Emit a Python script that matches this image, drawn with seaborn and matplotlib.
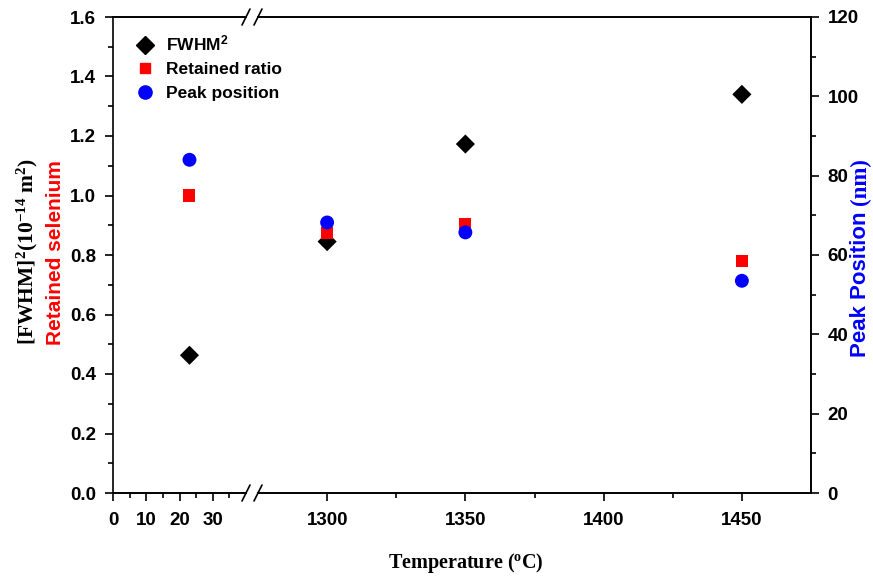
import numpy as np
import matplotlib
matplotlib.use('Agg')
import matplotlib.pyplot as plt
import seaborn as sns

sns.set_style('ticks')
plt.rcParams['font.family'] = ['Liberation Sans', 'DejaVu Sans']
plt.rcParams['font.weight'] = 'bold'
plt.rcParams['mathtext.default'] = 'regular'
plt.rcParams['axes.linewidth'] = 1.2
for k in ['text.color', 'axes.labelcolor', 'xtick.color', 'ytick.color', 'axes.edgecolor']:
    plt.rcParams[k] = 'black'

# data
temps = [23, 1300, 1350, 1450]
fwhm2 = [0.463, 0.845, 1.173, 1.340]
retained = [1.000, 0.875, 0.905, 0.780]
peak_pos = [84.0, 68.2, 65.7, 53.5]

left_ticks = [0, 10, 20, 30]
left_minor = [5, 15, 25, 35]
right_ticks = [1300, 1350, 1400, 1450]
right_minor = [1325, 1375, 1425]

W, H = 873, 578
fig = plt.figure(figsize=(W / 100, H / 100), dpi=100)


def rect(x0, x1, y0=17, y1=493):
    return [x0 / W, 1 - y1 / H, (x1 - x0) / W, (y1 - y0) / H]


ax1 = fig.add_axes(rect(113, 246))
ax2 = fig.add_axes(rect(258, 811))
ax1t = ax1.twinx()
ax2t = ax2.twinx()

for ax, axt in [(ax1, ax1t), (ax2, ax2t)]:
    sns.scatterplot(x=temps, y=fwhm2, ax=ax, marker='D', color='black', s=95,
                    edgecolor='none', legend=False, zorder=3)
    sns.scatterplot(x=temps, y=retained, ax=ax, marker='s', color='red', s=75,
                    edgecolor='none', legend=False, zorder=3)
    sns.scatterplot(x=temps, y=peak_pos, ax=axt, marker='o', color='blue', s=100,
                    edgecolor='none', legend=False, zorder=3)
    ax.set_ylim(0, 1.6)
    axt.set_ylim(0, 120)

ax1.set_xlim(0, 40)
ax2.set_xlim(1275, 1475)
ax1t.set_xlim(0, 40)
ax2t.set_xlim(1275, 1475)

# left segment
ax1.spines['right'].set_visible(False)
ax1t.spines['right'].set_visible(False)
ax1t.spines['left'].set_visible(False)
ax1t.tick_params(right=False, labelright=False, left=False)
ax1.set_xticks(left_ticks)
ax1.set_xticks(left_minor, minor=True)
ax1.set_yticks(np.arange(0, 1.61, 0.2))
ax1.set_yticks(np.arange(0.1, 1.6, 0.2), minor=True)
ax1.set_yticklabels([f'{v:.1f}' for v in np.arange(0, 1.61, 0.2)])

# right segment
ax2.spines['left'].set_visible(False)
ax2t.spines['left'].set_visible(False)
ax2.tick_params(left=False, labelleft=False, which='both')
ax2.set_xticks(right_ticks)
ax2.set_xticks(right_minor, minor=True)
ax2t.set_yticks(np.arange(0, 121, 20))
ax2t.set_yticks(np.arange(10, 120, 20), minor=True)

for a in (ax1, ax2, ax2t):
    a.tick_params(which='major', length=6, width=1.2, labelsize=13.5, direction='out', pad=6)
    a.tick_params(which='minor', length=3.5, width=1.2, direction='out')
    a.set_xlabel('')
    a.set_ylabel('')
ax1.tick_params(axis='x', pad=8)
ax2.tick_params(axis='x', pad=8)
ax1t.set_ylabel('')
for a in (ax1, ax2, ax2t):
    for lab in a.get_xticklabels() + a.get_yticklabels():
        lab.set_fontweight('bold')

# break marks
dx, dy = 4 / W, 8 / H
kw = dict(transform=fig.transFigure, color='black', lw=1.2, clip_on=False)
for xp in (246, 258):
    for yp in (17, 493):
        xf, yf = xp / W, 1 - yp / H
        fig.add_artist(plt.Line2D([xf - dx, xf + dx], [yf - dy, yf + dy], **kw))

# labels
fig.text(466 / W, 1 - 563 / H, 'Temperature ($^o$C)', ha='center', va='center',
         family='Liberation Serif', fontweight='bold', fontsize=14.5)
fig.text(27 / W, 1 - 252 / H, '[FWHM]$^2$(10$^{-14}$ m$^2$)', rotation=90,
         ha='center', va='center', family='Liberation Serif', fontweight='bold', fontsize=15.5)
fig.text(56 / W, 1 - 253 / H, 'Retained selenium', rotation=90, ha='center', va='center',
         color='red', fontweight='bold', fontsize=15)
fig.text(860 / W, 1 - 284 / H, 'Peak Position', rotation=90, ha='center', va='center',
         color='blue', fontweight='bold', fontsize=16)
fig.text(860 / W, 1 - 182 / H, '(nm)', rotation=90, ha='center', va='center',
         color='blue', family='Liberation Serif', fontweight='bold', fontsize=16.5)

# legend
handles = [
    plt.Line2D([], [], marker='D', color='black', ls='none', markersize=9),
    plt.Line2D([], [], marker='s', color='red', ls='none', markersize=7.5),
    plt.Line2D([], [], marker='o', color='blue', ls='none', markersize=9.5),
]
fig.legend(handles, ['FWHM$^2$', 'Retained ratio', 'Peak position'],
           loc='upper left', bbox_to_anchor=(126 / W, 1 - 25 / H), frameon=False,
           prop={'weight': 'bold', 'size': 12.5}, handletextpad=0.6, labelspacing=0.5,
           borderpad=0, handlelength=1.2)

fig.savefig('out.png', dpi=100)
